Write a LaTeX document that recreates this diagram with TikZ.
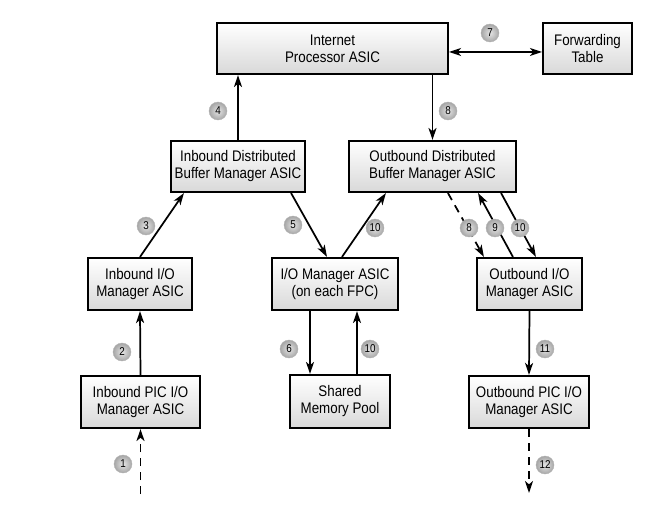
\documentclass[tikz,border=0pt]{standalone}
\usepackage{fontspec}
\setmainfont{Liberation Sans}[FakeStretch=0.87]
\usetikzlibrary{arrows.meta}

\begin{document}
\begin{tikzpicture}[x=0.75pt, y=-0.75pt,
                        every node/.style={font=\fontsize{11.5}{12.75}\selectfont, align=center},
                        >={Stealth[length=9pt, width=6pt, inset=2.5pt]},
                        flow/.style={line width=1.3pt, ->},
                        dashes/.style={dash pattern=on 6pt off 4.5pt}
                    ]

    % Define custom styles for the boxes and the step numbers
    \tikzset{
        asic/.style n args={2}{
            draw, line width=1.6pt, top color=white, bottom color=gray!30, inner sep=0pt,
            minimum width=#1*0.75pt, minimum height=#2*0.75pt
        }
    }
    \tikzset{
        badge/.style={
            circle, inner sep=0pt, minimum size=13.5pt, draw=gray!60, line width=0.3pt,
            shading=radial, inner color=gray!20, outer color=gray!70,
            font=\fontsize{8.5}{8.5}\selectfont
        }
    }

    \useasboundingbox (0,0) rectangle (661,510);

    % First row of nodes
    \node[asic={231}{51}] (A1) at (332.5, 48.5) {Internet\\Processor ASIC};
    \node[asic={89}{51}] (A2) at (587.5, 48.5) {Forwarding\\Table};

    % Second row of nodes
    \node[asic={134}{51}] (B1) at (238, 166.5) {Inbound Distributed\\Buffer Manager ASIC};
    \node[asic={167}{51}] (B2) at (432.5, 166.5) {Outbound Distributed\\Buffer Manager ASIC};

    % Third row of nodes
    \node[asic={104}{52}] (C1) at (140, 284) {Inbound I/O\\Manager ASIC};
    \node[asic={126}{52}] (C2) at (335, 284) {I/O Manager ASIC\\(on each FPC)};
    \node[asic={105}{52}] (C3) at (529.5, 284) {Outbound I/O\\Manager ASIC};

    % Fourth row of nodes
    \node[asic={119}{52}] (D1) at (140.5, 402) {Inbound PIC I/O\\Manager ASIC};
    \node[asic={100}{53}] (D2) at (340, 401.5) {Shared\\Memory Pool};
    \node[asic={120}{52}] (D3) at (529, 402) {Outbound PIC I/O\\Manager ASIC};

    % Free ends of the dashed arrows
    \coordinate (in) at (140.5, 494);
    \coordinate (out) at (529, 493);

    % Edges between nodes
    \draw[flow, dashes] (in) -- (D1.south);
    \draw[flow] (D1.north) -- (C1.south);
    \draw[flow] (C1.north) -- ([xshift=10.5pt]B1.south west);
    \draw[flow] (B1.north) -- (B1.north |- A1.south);
    \draw[flow] ([xshift=-11.25pt]B1.south east) -- ([xshift=-6pt]C2.north);
    \draw[flow] ([xshift=5.25pt]C2.north) -- ([xshift=28.5pt]B2.south west);
    \draw[flow] ([xshift=-18.75pt]C2.south) -- ([xshift=-18.75pt]C2.south |- D2.north);
    \draw[flow] ([xshift=16.5pt]C2.south |- D2.north) -- ([xshift=16.5pt]C2.south);
    \draw[flow, <->] ([yshift=-2.6pt]A1.east) -- ([yshift=-2.6pt]A2.west);
    \draw[flow] (B2.north |- A1.south) -- (B2.north);
    \draw[flow, dashes] ([xshift=11.6pt]B2.south) -- ([xshift=6pt]C3.north west);
    \draw[flow] ([xshift=27.75pt]C3.north west) -- ([xshift=-29.25pt]B2.south east);
    \draw[flow] ([xshift=-12pt]B2.south east) -- ([xshift=45pt]C3.north west);
    \draw[flow] (C3.south) -- (D3.north);
    \draw[flow, dashes] (D3.south) -- (out);

    % Step numbers
    \foreach \n/\x/\y [count=\i] in {1/123/464, 2/122/352, 3/146/226, 4/218/111, 5/293/225,
                                     6/289/349, 7/490/33, 8/448/111, 8/469/228, 9/495/228,
                                     10/375/228, 10/520/228, 10/370/349, 11/545/349, 12/545/465} {
        \node[badge] (L\i) at (\x, \y) {\n};
    }

\end{tikzpicture}
\end{document}
